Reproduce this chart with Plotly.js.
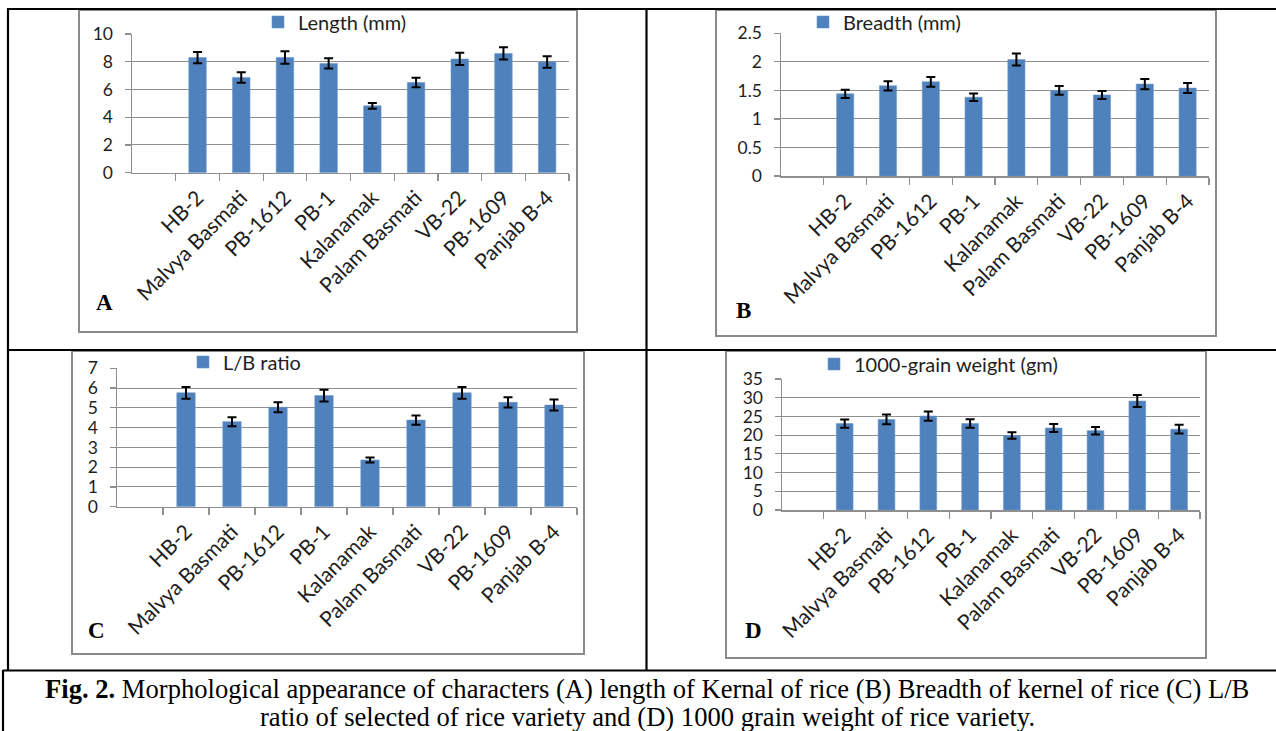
<!DOCTYPE html>
<html>
<head>
<meta charset="utf-8">
<script src="https://cdn.plot.ly/plotly-3.0.1.min.js"></script>
<style>
html,body{margin:0;padding:0;background:#fff;}
#chart{width:1276px;height:731px;}
</style>
</head>
<body>
<div id="chart"></div>
<script>
// ---- data ----
const categories = ["HB-2", "Malvya Basmati", "PB-1612", "PB-1", "Kalanamak", "Palam Basmati", "VB-22", "PB-1609", "Panjab B-4"];
const lengthMm = [8.30, 6.87, 8.31, 7.88, 4.82, 6.50, 8.20, 8.60, 7.98];
const lengthErr = [0.41, 0.38, 0.45, 0.37, 0.21, 0.34, 0.44, 0.44, 0.42];
const breadthMm = [1.44, 1.58, 1.65, 1.38, 2.04, 1.50, 1.42, 1.61, 1.54];
const breadthErr = [0.073, 0.080, 0.085, 0.067, 0.105, 0.075, 0.070, 0.090, 0.088];
const lbRatio = [5.76, 4.30, 5.03, 5.62, 2.36, 4.38, 5.76, 5.28, 5.14];
const lbErr = [0.30, 0.23, 0.25, 0.30, 0.13, 0.23, 0.30, 0.26, 0.28];
const grainWeight = [23.1, 24.2, 25.1, 23.1, 19.9, 21.9, 21.2, 29.1, 21.6];
const grainErr = [1.10, 1.30, 1.25, 1.15, 0.85, 1.05, 1.00, 1.60, 1.15];
const seriesNames = ["Length (mm)", "Breadth (mm)", "L/B ratio", "1000-grain weight (gm)"];
const panelLetters = ["A", "B", "C", "D"];
const captionLine1 = "<b>Fig. 2.</b> Morphological appearance of characters (A) length of Kernal of rice (B) Breadth of kernel of rice (C) L/B";
const captionLine2 = "ratio of selected of rice variety and (D) 1000 grain weight of rice variety.";

// ---- geometry helpers (pixels -> paper) ----
const W = 1276, H = 731;
const px = v => v / W;
const py = v => 1 - v / H;

const BAR = "#4F81BD";
const GRID = "#8f8f8f";
const TXT = "#1e1e1e";
const FONT = "Lato, 'Open Sans', sans-serif";
const SERIF = "'Liberation Serif', 'Times New Roman', serif";

const panels = [
  {vals: lengthMm, err: lengthErr, x0: 132, x1: 569, y0: 34, y1: 172.7, range: [0, 10], dtick: 2,
   leg: {x: 298, y: 22}, letter: {x: 104, y: 303}, frame: [79, 10, 577, 332]},
  {vals: breadthMm, err: breadthErr, x0: 781, x1: 1209, y0: 33.3, y1: 176, range: [0, 2.5], dtick: 0.5,
   leg: {x: 843, y: 22}, letter: {x: 743, y: 310}, frame: [716, 10, 1216, 336]},
  {vals: lbRatio, err: lbErr, x0: 117, x1: 577, y0: 368.3, y1: 506.7, range: [0, 7], dtick: 1,
   leg: {x: 223, y: 362}, letter: {x: 97, y: 630}, frame: [72, 351, 584, 654]},
  {vals: grainWeight, err: grainErr, x0: 782, x1: 1200, y0: 379, y1: 510, range: [0, 35], dtick: 5,
   leg: {x: 854, y: 364}, letter: {x: 753, y: 630}, frame: [726, 351, 1206, 658]}
];

const traces = [];
const layout = {
  width: W, height: H,
  margin: {l: 0, r: 0, t: 0, b: 0},
  paper_bgcolor: "#ffffff",
  plot_bgcolor: "rgba(0,0,0,0)",
  font: {family: FONT, color: TXT, size: 18},
  bargap: 0.6,
  showlegend: true,
  shapes: [],
  annotations: []
};

panels.forEach((p, i) => {
  const n = i === 0 ? "" : String(i + 1);
  const xa = "x" + n, ya = "y" + n;
  const legName = i === 0 ? "legend" : "legend" + (i + 1);
  traces.push({
    type: "bar",
    x: categories,
    y: p.vals,
    name: seriesNames[i],
    xaxis: xa, yaxis: ya,
    legend: legName,
    marker: {color: BAR, line: {color: "#6d97c9", width: 0.6}},
    error_y: {type: "data", array: p.err, visible: true, color: "#000000", thickness: 2, width: 4.5},
    hoverinfo: "x+y"
  });
  layout["xaxis" + n] = {
    domain: [px(p.x0), px(p.x1)],
    anchor: ya,
    type: "category",
    range: [-1.5, categories.length - 0.5],
    showgrid: false,
    showline: true, linecolor: GRID, linewidth: 1.5,
    ticks: "outside", tickson: "boundaries", ticklen: 7, tickcolor: GRID, tickwidth: 1.2,
    tickangle: -45,
    ticklabelstandoff: 3,
    tickfont: {family: FONT, size: 21, color: TXT},
    fixedrange: true
  };
  layout["yaxis" + n] = {
    domain: [py(p.y1), py(p.y0)],
    anchor: xa,
    range: p.range,
    dtick: p.dtick,
    showgrid: true, gridcolor: GRID, gridwidth: 1,
    zeroline: false,
    showline: true, linecolor: GRID, linewidth: 1.5,
    ticks: "outside", ticklen: 6, tickcolor: GRID, tickwidth: 1.2,
    ticklabelstandoff: 8,
    tickfont: {family: FONT, size: 17.5, color: TXT},
    fixedrange: true
  };
  layout[legName] = {
    x: px(p.leg.x - 40), y: py(p.leg.y),
    xanchor: "left", yanchor: "middle",
    bgcolor: "rgba(0,0,0,0)", borderwidth: 0,
    font: {family: FONT, size: 20, color: TXT}
  };
  const f = p.frame;
  layout.shapes.push({type: "rect", xref: "paper", yref: "paper",
    x0: px(f[0]), x1: px(f[2]), y0: py(f[3]), y1: py(f[1]),
    line: {color: "#8a8a8a", width: 2}, layer: "below"});
  layout.annotations.push({xref: "paper", yref: "paper", x: px(p.letter.x), y: py(p.letter.y),
    xanchor: "center", yanchor: "middle", showarrow: false,
    text: "<b>" + panelLetters[i] + "</b>",
    font: {family: SERIF, size: 23, color: "#000"}});
});

// table borders
const line = (x0, y0, x1, y1) => ({type: "line", xref: "paper", yref: "paper",
  x0: px(x0), y0: py(y0), x1: px(x1), y1: py(y1), line: {color: "#000", width: 2.2}});
layout.shapes.push(line(7, 9, 1276, 9));
layout.shapes.push(line(8, 9, 8, 670));
layout.shapes.push(line(3, 670, 3, 731));
layout.shapes.push(line(646.5, 9, 646.5, 670));
layout.shapes.push(line(7, 350, 1276, 350));
layout.shapes.push(line(3, 670.5, 1276, 670.5));

// caption
layout.annotations.push({xref: "paper", yref: "paper", x: px(647), y: py(689),
  xanchor: "center", yanchor: "middle", showarrow: false, text: captionLine1,
  font: {family: SERIF, size: 26.6, color: "#000"}});
layout.annotations.push({xref: "paper", yref: "paper", x: px(647), y: py(717),
  xanchor: "center", yanchor: "middle", showarrow: false, text: captionLine2,
  font: {family: SERIF, size: 26.6, color: "#000"}});

Plotly.newPlot("chart", traces, layout, {displayModeBar: false, staticPlot: true});
</script>
</body>
</html>
